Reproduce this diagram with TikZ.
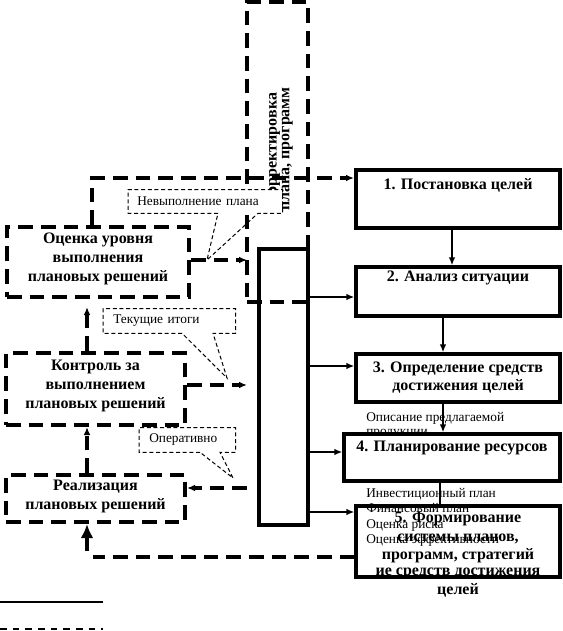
\documentclass[tikz,border=0pt]{standalone}
\usepackage{fontspec}
\setmainfont{Liberation Serif}
\usetikzlibrary{arrows.meta,positioning}

\begin{document}
\begin{tikzpicture}[x=0.75pt,y=-0.75pt,
    blok/.style={draw,line width=2.5pt,fill=white,minimum width=153pt,inner sep=0pt},
    pblok/.style={draw,line width=3pt,dash pattern=on 11pt off 6pt,fill=white,inner sep=0pt},
    btext/.style={font=\bfseries\fontsize{12}{14}\selectfont,align=center,inner sep=0pt},
    vyn/.style={fill=white,inner sep=0pt,align=left,font=\fontsize{10}{11}\selectfont},
    vynline/.style={line width=0.75pt,dash pattern=on 3pt off 2pt},
    pstrel/.style={line width=3pt,dash pattern=on 11pt off 6pt,-{Latex[length=6pt,width=5pt]}},
    strel/.style={line width=2pt,-{Latex[length=6pt,width=5pt]}}]
\useasboundingbox (0,0) rectangle (562,631);

  \draw (277.5,152) node[draw,line width=3pt,dash pattern=on 11pt off 6pt,minimum width=45.75pt,minimum height=225pt] (korrektirovka) {};
  \draw (279.5,149) node[btext,rotate=90,font=\bfseries\fontsize{12}{9.5}\selectfont] (korrtext) {Корректировка\\плана, программ};
  \draw (283.5,387) node[draw,line width=2.5pt,minimum width=36.75pt,minimum height=207pt] (pool) {};

  \draw (98,262) node[pblok,minimum width=136.5pt,minimum height=52.5pt] (ocenka) {};
  \draw (98,259) node[btext] (ocenka-t) {Оценка уровня\\выполнения\\плановых решений};
  \draw (95.5,389) node[pblok,minimum width=134.25pt,minimum height=54pt] (kontrol) {};
  \draw (95.5,386) node[btext] (kontrol-t) {Контроль за\\выполнением\\плановых решений};
  \draw (95.5,498.5) node[pblok,minimum width=134.25pt,minimum height=35.25pt] (realizacija) {};
  \draw (95.5,496.5) node[btext] (realizacija-t) {Реализация\\плановых решений};

  \coordinate (verh) at (92,178);
  \coordinate (ocin) at (247,260);
  \coordinate (kin) at (247,385);
  \coordinate (rout) at (247,488);
  \coordinate (itup) at (87,307);
  \coordinate (reup) at (87,427);
  \coordinate (niz) at (87,557);

  \draw[pstrel] (ocenka.north -| verh) -- (verh) -- (354,178);
  \draw[pstrel] (ocenka.east |- ocin) -- (ocin);
  \draw[pstrel] (kontrol.east |- kin) -- (kin);
  \draw[pstrel] (rout) -- (realizacija.east |- rout);
  \draw[pstrel] (kontrol.north -| itup) -- (itup);
  \draw[pstrel] (realizacija.north -| reup) -- (reup);

  \draw (366,418) node[vyn,fill=none,anchor=west,font=\fontsize{10}{11.6}\selectfont] (opisanie) {Описание предлагаемой};
  \draw (366,433.5) node[vyn,fill=none,anchor=west] (produkcija) {продукции};

  \draw (458,199) node[blok,minimum height=43.5pt] (postanovka) {};
  \draw (458,185) node[btext] (postanovka-t) {1. Постановка целей};
  \draw (458,291.5) node[blok,minimum height=36.75pt] (analiz) {};
  \draw (458,278) node[btext] (analiz-t) {2. Анализ ситуации};
  \draw (458,378) node[blok,minimum height=36pt] (opredelenie) {};
  \draw (458,377.5) node[btext] (opredelenie-t) {3. Определение средств\\достижения целей};
  \draw (452,457.5) node[blok,minimum width=162pt,minimum height=35.25pt] (planirovanie) {};
  \draw (452,448) node[btext] (planirovanie-t) {4. Планирование ресурсов};
  \draw (458,541.5) node[blok,minimum height=53.25pt] (formirovanie) {};
  \draw (458,537.5) node[btext] (formirovanie-t) {5. Формирование\\системы планов,\\программ, стратегий};
  \draw (458,582.5) node[btext] (sredstva) {ие средств достижения\\целей};
  \draw (366,517.5) node[vyn,fill=none,anchor=west,font=\fontsize{10}{11.6}\selectfont] (plany) {Инвестиционный план\\Финансовый план\\Оценка риска\\Оценка эффективности};

  \foreach \n/\yy in {analiz/297, opredelenie/366, planirovanie/452, formirovanie/512}
    \draw[strel] (pool.east |- 0,\yy) -- (\n.west |- 0,\yy);
  \draw[strel] (postanovka.south -| 452,0) -- (analiz.north -| 452,0);
  \draw[strel] (analiz.south -| 443,0) -- (opredelenie.north -| 443,0);
  \draw[strel] (opredelenie.south -| 443,0) -- (planirovanie.north -| 443,0);
  \draw[line width=2pt] (planirovanie.south -| 440,0) -- (formirovanie.north -| 440,0);

  \draw[line width=3pt,dash pattern=on 11pt off 6pt] (formirovanie.west |- niz) -- (93,557);
  \draw[line width=3pt,-{Latex[length=10.5pt,width=9.5pt]}] (niz) ++(0,-6) -- (realizacija.south -| niz);

  \draw (128,201.5) node[vyn,anchor=west,text width=102pt,inner xsep=6.75pt,minimum height=17.25pt] (nevypolnenie) {Невыполнение плана};
  \draw[vynline] ([xshift=67.5pt]nevypolnenie.south west) -- (nevypolnenie.south west) -- (nevypolnenie.north west) -- (nevypolnenie.north east) -- (nevypolnenie.south east) -- ([xshift=97.5pt]nevypolnenie.south west) -- (207,260) -- cycle;
  \draw (103,321) node[vyn,anchor=west,text width=84pt,inner xsep=7.5pt,minimum height=18pt] (itogi) {Текущие итоги};
  \draw[vynline] ([xshift=59.25pt]itogi.south west) -- (itogi.south west) -- (itogi.north west) -- (itogi.north east) -- (itogi.south east) -- ([xshift=82.5pt]itogi.south west) -- (227,378) -- cycle;
  \draw (139,440) node[vyn,anchor=west,text width=57pt,inner xsep=7.5pt,minimum height=18pt] (operativno) {Оперативно};
  \draw[vynline] ([xshift=45.75pt]operativno.south west) -- (operativno.south west) -- (operativno.north west) -- (operativno.north east) -- (operativno.south east) -- ([xshift=60.75pt]operativno.south west) -- (233,478) -- cycle;

  \draw[line width=1pt] (0,602) -- (103,602);
  \draw[line width=1pt,dash pattern=on 5pt off 4.5pt] (0,629) -- (103,629);

\end{tikzpicture}
\end{document}
